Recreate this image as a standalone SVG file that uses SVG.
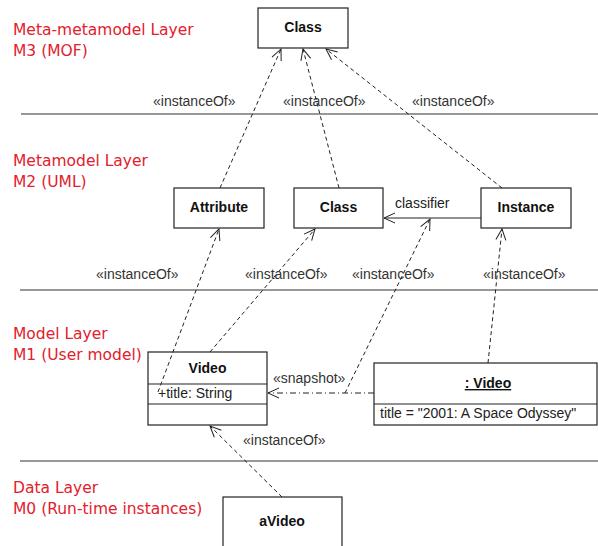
<svg xmlns="http://www.w3.org/2000/svg" width="598" height="546" viewBox="0 0 598 546">
<style>
.layer{font-family:"DejaVu Sans",sans-serif;font-size:15.5px;fill:#e3202c}
.box{fill:#fff;stroke:#222;stroke-width:1.2}
.sep{stroke:#333;stroke-width:1.2;fill:none}
.bt{font-family:"Liberation Sans",Arial,sans-serif;font-size:14px;font-weight:bold;fill:#111;text-anchor:middle}
.t{font-family:"Liberation Sans",Arial,sans-serif;font-size:14px;fill:#222}
.st{font-family:"Liberation Sans",Arial,sans-serif;font-size:14px;fill:#333}
.dash{stroke:#222;stroke-width:1;fill:none;stroke-dasharray:4,3;marker-end:url(#open)}
.solid{stroke:#222;stroke-width:1;fill:none;marker-end:url(#open)}
.dd{stroke:#222;stroke-width:1;fill:none;stroke-dasharray:6,3,1,3;marker-end:url(#open)}
</style>
<defs>
<marker id="open" viewBox="-12 -6 14 12" refX="0" refY="0" markerWidth="14" markerHeight="12" markerUnits="userSpaceOnUse" orient="auto">
<path d="M-11,-5 L0,0 L-11,5" fill="none" stroke="#222" stroke-width="1"/>
</marker>
</defs>
<rect width="598" height="546" fill="#fff"/>
<g id="layers">
<text class="layer" x="13" y="35">Meta-metamodel Layer</text>
<text class="layer" x="13" y="56">M3 (MOF)</text>
<text class="layer" x="13" y="166">Metamodel Layer</text>
<text class="layer" x="13" y="187">M2 (UML)</text>
<text class="layer" x="13" y="339">Model Layer</text>
<text class="layer" x="13" y="360">M1 (User model)</text>
<text class="layer" x="13" y="493">Data Layer</text>
<text class="layer" x="13" y="514">M0 (Run-time instances)</text>
<line class="sep" x1="21" y1="114" x2="598" y2="114"/>
<line class="sep" x1="20" y1="290" x2="598" y2="290"/>
<line class="sep" x1="20" y1="461" x2="598" y2="461"/>
</g>
<g id="m3-class">
<rect class="box" x="258" y="8" width="90" height="40"/>
<text class="bt" x="303" y="32">Class</text>
</g>
<g id="attribute">
<rect class="box" x="174" y="188" width="90" height="40"/>
<text class="bt" x="219" y="212">Attribute</text>
</g>
<g id="m2-class">
<rect class="box" x="294" y="188" width="89" height="40"/>
<text class="bt" x="338.5" y="212">Class</text>
</g>
<g id="instance">
<rect class="box" x="481" y="188" width="90" height="40"/>
<text class="bt" x="526" y="212">Instance</text>
</g>
<g id="video">
<rect class="box" x="148" y="352" width="119" height="73"/>
<line class="box" x1="148" y1="384" x2="267" y2="384"/>
<line class="box" x1="148" y1="404" x2="267" y2="404"/>
<text class="bt" x="207.5" y="373">Video</text>
<text class="t" x="158" y="398">+title: String</text>
</g>
<g id="video-object">
<rect class="box" x="374" y="363" width="223" height="62"/>
<line class="box" x1="374" y1="404" x2="597" y2="404"/>
<text class="bt" x="488" y="388" text-decoration="underline">: Video</text>
<text class="t" x="380" y="418">title = "2001: A Space Odyssey"</text>
</g>
<g id="avideo">
<rect class="box" x="223" y="497" width="119" height="60"/>
<text class="bt" x="282" y="526">aVideo</text>
</g>
<g id="connectors">
<path class="dash" d="M220,188 L281,49"/>
<path class="dash" d="M339,188 L303,49"/>
<path class="dash" d="M502,188 L326,49"/>
<path class="solid" d="M481,218 L384,218"/>
<path class="dash" d="M158,392 L219,229"/>
<path class="dash" d="M210,352 L315,229"/>
<path class="dash" d="M345,393 L430,219"/>
<path class="dash" d="M488,363 L502,229"/>
<path class="dd" d="M374,393 L268,393"/>
<path class="dash" d="M282,497 L210,426"/>
<text class="st" x="153" y="106">«instanceOf»</text>
<text class="st" x="283" y="106">«instanceOf»</text>
<text class="st" x="412" y="106">«instanceOf»</text>
<text class="t" x="395" y="208">classifier</text>
<text class="st" x="96" y="279">«instanceOf»</text>
<text class="st" x="245" y="279">«instanceOf»</text>
<text class="st" x="352" y="279">«instanceOf»</text>
<text class="st" x="483" y="279">«instanceOf»</text>
<text class="st" x="273" y="383">«snapshot»</text>
<text class="st" x="243" y="445">«instanceOf»</text>
</g>
</svg>
